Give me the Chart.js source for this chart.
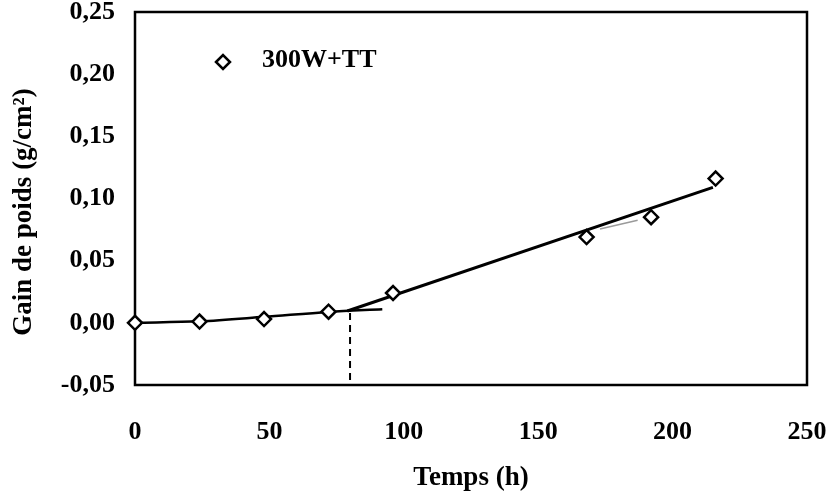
<!DOCTYPE html>
<html>
<head>
<meta charset="utf-8">
<script src="https://cdn.jsdelivr.net/npm/chart.js@4"></script>
<style>
  body { margin: 0; background: #fff; }
  #wrap { width: 827px; height: 498px; }
</style>
</head>
<body>
<div id="wrap"><canvas id="gainchart"></canvas></div>
<script>
// measured points
const hours = [0, 24, 48, 72, 96, 168, 192, 216];
const gain = [0, 0.001, 0.003, 0.009, 0.024, 0.069, 0.085, 0.116];
const seriesLabel = '300W+TT';

// fitted curve, first stage
const fit1Hours = [0, 24, 48, 72, 92];
const fit1Gain = [0, 0.0012, 0.0048, 0.0088, 0.011];

// linear fit, second stage
const fit2Hours = [79, 215];
const fit2Gain = [0.0095, 0.109];

// faint grey segment
const greyHours = [173, 187];
const greyGain = [0.0755, 0.0825];

// transition marker
const markHours = [80, 80];
const markGain = [0.008, -0.05];

const xTicks = [0, 50, 100, 150, 200, 250];
const yTicks = [-0.05, 0, 0.05, 0.10, 0.15, 0.20, 0.25];

const pts = (xs, ys) => xs.map((x, i) => ({ x: x, y: ys[i] }));
const serif = 'Liberation Serif';

const frame = {
  id: 'frame',
  beforeDatasetsDraw(chart) {
    const a = chart.chartArea;
    const ctx = chart.ctx;
    ctx.save();
    ctx.strokeStyle = '#000';
    ctx.lineWidth = 2.5;
    ctx.strokeRect(a.left, a.top, a.right - a.left, a.bottom - a.top);
    ctx.restore();
  }
};

const insideLegend = {
  id: 'insideLegend',
  afterDraw(chart) {
    const a = chart.chartArea;
    const ctx = chart.ctx;
    ctx.save();
    ctx.fillStyle = '#fff';
    ctx.strokeStyle = '#000';
    ctx.lineWidth = 2.5;
    Chart.helpers.drawPoint(ctx, {
      pointStyle: 'rectRot', radius: 7, rotation: 0, borderWidth: 2.5
    }, a.left + 88, a.top + 50);
    ctx.font = 'bold 26px "' + serif + '"';
    ctx.fillStyle = '#000';
    ctx.textBaseline = 'middle';
    ctx.fillText(seriesLabel, a.left + 127, a.top + 48);
    ctx.restore();
  }
};

const ctx = document.getElementById('gainchart').getContext('2d');

const chart = new Chart(ctx, {
  type: 'line',
  data: {
    datasets: [{
      label: seriesLabel,
      data: pts(hours, gain),
      showLine: false,
      clip: false,
      pointStyle: 'rectRot',
      pointRadius: 7,
      pointBorderWidth: 2.5,
      pointBackgroundColor: '#fff',
      pointBorderColor: '#000',
      order: 0
    }, {
      label: 'fit1',
      data: pts(fit1Hours, fit1Gain),
      borderColor: '#000',
      borderWidth: 2.5,
      pointRadius: 0,
      tension: 0.4,
      cubicInterpolationMode: 'monotone',
      order: 1
    }, {
      label: 'fit2',
      data: pts(fit2Hours, fit2Gain),
      borderColor: '#000',
      borderWidth: 3,
      pointRadius: 0,
      order: 1
    }, {
      label: 'grey',
      data: pts(greyHours, greyGain),
      borderColor: '#9a9a9a',
      borderWidth: 1.5,
      pointRadius: 0,
      order: 1
    }, {
      label: 'mark',
      data: pts(markHours, markGain),
      borderColor: '#000',
      borderWidth: 2,
      borderDash: [7, 5],
      pointRadius: 0,
      order: 1
    }]
  },
  options: {
    responsive: true,
    maintainAspectRatio: false,
    animation: false,
    events: [],
    layout: { padding: { top: 12, right: 20, left: 0, bottom: 0 } },
    plugins: {
      legend: { display: false },
      tooltip: { enabled: false }
    },
    scales: {
      x: {
        type: 'linear',
        min: 0,
        max: 250,
        afterBuildTicks: s => { s.ticks = xTicks.map(v => ({ value: v })); },
        afterFit: s => { s.height = 113; s.paddingLeft = 0; s.paddingRight = 0; },
        grid: { display: false, drawTicks: false },
        border: { display: false },
        ticks: {
          padding: 32,
          maxRotation: 0,
          color: '#000',
          font: { family: serif, size: 26, weight: 'bold' }
        },
        title: {
          display: true,
          text: 'Temps (h)',
          color: '#000',
          padding: { top: 0, bottom: 4 },
          font: { family: serif, size: 27, weight: 'bold' }
        }
      },
      y: {
        type: 'linear',
        min: -0.05,
        max: 0.25,
        afterBuildTicks: s => { s.ticks = yTicks.map(v => ({ value: v })); },
        afterFit: s => { s.width = 135; s.paddingTop = 0; s.paddingBottom = 0; },
        grid: { display: false, drawTicks: false },
        border: { display: false },
        ticks: {
          padding: 20,
          color: '#000',
          font: { family: serif, size: 26, weight: 'bold' },
          callback: v => v.toFixed(2).replace('.', ',')
        },
        title: {
          display: true,
          text: 'Gain de poids (g/cm²)\u00a0\u00a0\u00a0\u00a0',
          color: '#000',
          padding: { top: 8, bottom: 0 },
          font: { family: serif, size: 27, weight: 'bold' }
        }
      }
    }
  },
  plugins: [frame, insideLegend]
});
</script>
</body>
</html>
